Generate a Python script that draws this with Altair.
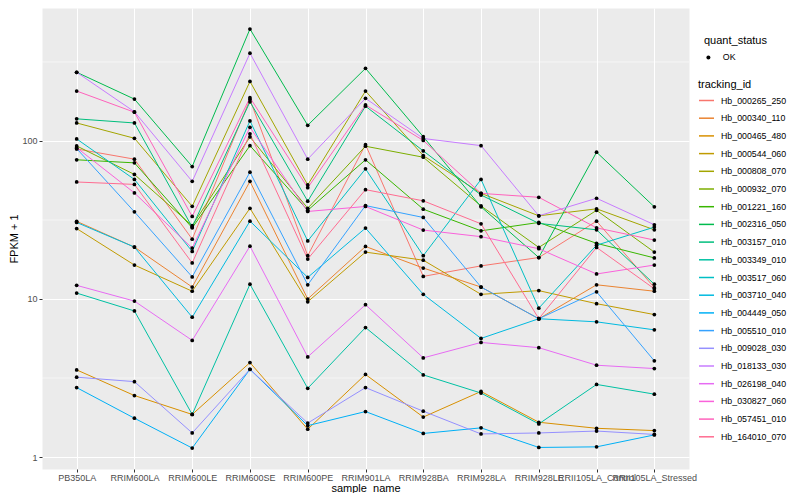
import altair as alt
import pandas as pd

samples = ["PB350LA", "RRIM600LA", "RRIM600LE", "RRIM600SE", "RRIM600PE", "RRIM901LA",
           "RRIM928BA", "RRIM928LA", "RRIM928LE", "RRII105LA_Control", "RRII105LA_Stressed"]

tracking_ids = ["Hb_000265_250", "Hb_000340_110", "Hb_000465_480", "Hb_000544_060", "Hb_000808_070",
                "Hb_000932_070", "Hb_001221_160", "Hb_002316_050", "Hb_003157_010", "Hb_003349_010",
                "Hb_003517_060", "Hb_003710_040", "Hb_004449_050", "Hb_005510_010", "Hb_009028_030",
                "Hb_018133_030", "Hb_026198_040", "Hb_030827_060", "Hb_057451_010", "Hb_164010_070"]

colors = ["#F8766D", "#EA8331", "#D89000", "#C09B00", "#A3A500", "#7CAE00", "#39B600", "#00BB4E",
          "#00BF7D", "#00C1A3", "#00BFC4", "#00BAE0", "#00B0F6", "#35A2FF", "#9590FF", "#C77CFF",
          "#E76BF3", "#FA62DB", "#FF62BC", "#FF6C91"]

# FPKM + 1 per sample (order of `samples`)
hb_000265_250 = [89, 76.7, 23.9, 183, 18.8, 94.8, 13.9, 16.2, 18.3, 31.1, 11.8]
hb_000340_110 = [31, 21.3, 11.9, 55.5, 10.0, 21.5, 15.7, 11.9, 7.5, 12.3, 11.2]
hb_000465_480 = [3.56, 2.45, 1.86, 3.96, 1.50, 3.33, 1.79, 2.60, 1.66, 1.52, 1.47]
hb_000544_060 = [27.9, 16.4, 11.2, 37.5, 9.6, 19.8, 17.6, 10.7, 11.3, 9.34, 7.97]
hb_000808_070 = [130, 104, 38.6, 238, 52.7, 207, 80.8, 46.6, 33.6, 37.2, 27.4]
hb_000932_070 = [93, 61.4, 29.1, 106, 37.5, 92.6, 78.9, 38.8, 21.2, 36.4, 19.8]
hb_001221_160 = [76, 72.7, 28.2, 93.4, 36.4, 76, 37.0, 27.0, 30.5, 22.5, 18.2]
hb_002316_050 = [272, 184, 68.9, 511, 125.6, 288, 106.4, 38.3, 18.3, 84.9, 38.3]
hb_003157_010 = [138, 130, 28.5, 177, 41.6, 166, 86.5, 45.5, 30.1, 27.4, 12.4]
hb_003349_010 = [10.9, 8.4, 1.86, 12.4, 2.72, 6.6, 3.31, 2.54, 1.62, 2.88, 2.50]
hb_003517_060 = [103, 57.1, 20.0, 134, 23.3, 66.6, 18.8, 57.1, 8.75, 21.9, 28.5]
hb_003710_040 = [30.5, 21.3, 7.67, 31.1, 13.7, 28.1, 10.7, 5.63, 7.5, 7.17, 6.38]
hb_004449_050 = [2.75, 1.76, 1.14, 3.59, 1.58, 1.94, 1.41, 1.53, 1.15, 1.16, 1.38]
hb_005510_010 = [89.5, 35.6, 13.8, 63.5, 12.3, 39.0, 32.8, 11.9, 7.5, 11.1, 4.06]
hb_009028_030 = [3.2, 3.0, 1.42, 3.59, 1.64, 2.75, 1.95, 1.40, 1.42, 1.46, 1.39]
hb_018133_030 = [272, 153, 55.5, 359, 76.7, 186, 103.7, 93.4, 33.6, 43.4, 29.5]
hb_026198_040 = [12.2, 9.7, 5.47, 21.6, 4.30, 9.2, 4.24, 5.31, 4.92, 3.81, 3.63]
hb_030827_060 = [90.7, 46.9, 21.0, 122, 35.8, 38.5, 27.3, 24.8, 20.8, 14.4, 16.4]
hb_057451_010 = [207, 152, 33.3, 188, 50.6, 169, 100.7, 46.6, 44.0, 28.2, 23.6]
hb_164010_070 = [55, 53.1, 16.9, 111, 17.9, 49.2, 41.8, 29.9, 7.5, 21.2, 11.6]

series_values = [hb_000265_250, hb_000340_110, hb_000465_480, hb_000544_060, hb_000808_070,
                 hb_000932_070, hb_001221_160, hb_002316_050, hb_003157_010, hb_003349_010,
                 hb_003517_060, hb_003710_040, hb_004449_050, hb_005510_010, hb_009028_030,
                 hb_018133_030, hb_026198_040, hb_030827_060, hb_057451_010, hb_164010_070]

minor_breaks = [10 ** 0.5, 10 ** 1.5, 10 ** 2.5]
major_breaks = [1, 10, 100]

rows = []
for tid, vals in zip(tracking_ids, series_values):
    for i, (s, v) in enumerate(zip(samples, vals)):
        rows.append({"sample_name": s, "tracking_id": tid, "FPKM": v,
                     "quant_status": "OK", "idx": i})
df = pd.DataFrame(rows)

x_enc = alt.X("sample_name:N",
              scale=alt.Scale(type="point", padding=0.6, domain=samples),
              axis=alt.Axis(grid=True, labelAngle=0, labelOverlap=False, labelBound=False,
                            labelFlush=False, labelPadding=1, titlePadding=0),
              title="sample_name")
y_enc = alt.Y("FPKM:Q",
              scale=alt.Scale(type="log", domain=[0.84, 694], nice=False, zero=False),
              axis=alt.Axis(values=major_breaks, format="d", grid=True, labelPadding=2,
                            titlePadding=2),
              title="FPKM + 1")

minor = alt.Chart(pd.DataFrame({"FPKM": minor_breaks})).mark_rule(
    color="white", strokeWidth=0.55).encode(y=y_enc)

lines = alt.Chart(df).mark_line(strokeWidth=1).encode(
    x=x_enc, y=y_enc,
    stroke=alt.Stroke("tracking_id:N",
                      scale=alt.Scale(domain=tracking_ids, range=colors),
                      legend=alt.Legend(title="tracking_id", orient="none", legendX=656, legendY=71,
                                        symbolType="stroke", symbolSize=225, symbolStrokeWidth=1.5,
                                        rowPadding=3.7, labelOffset=6, titlePadding=2, padding=0)),
    order=alt.Order("idx:Q"))

points = alt.Chart(df).mark_circle(size=14, opacity=1).encode(
    x=x_enc, y=y_enc,
    fill=alt.Fill("quant_status:N",
                  scale=alt.Scale(domain=["OK"], range=["black"]),
                  legend=alt.Legend(title="quant_status", orient="none", legendX=662, legendY=27,
                                    symbolType="circle", symbolSize=16, symbolStrokeWidth=0,
                                    labelOffset=10, titlePadding=7, padding=0)))

chart = alt.layer(minor, lines, points).properties(
    width=647, height=461,
    padding={"left": 0, "top": 0, "right": 0, "bottom": 0}
).configure(font="Liberation Sans").configure_view(
    fill="#EBEBEB", stroke="transparent"
).configure_axis(
    domain=False, gridColor="white", gridWidth=1.07, tickColor="#333333", tickSize=3,
    tickWidth=1, labelColor="#4D4D4D", labelFontSize=9, labelFont="Liberation Sans",
    titleFontSize=11, titleFontWeight="normal", titleColor="black", titleFont="Liberation Sans"
).configure_legend(
    titleFontSize=11, titleFontWeight="normal", titleColor="black", titleFont="Liberation Sans",
    labelFontSize=8.8, labelColor="black", labelFont="Liberation Sans"
)

chart.save("out.html", embed_options={"renderer": "svg", "actions": False})
